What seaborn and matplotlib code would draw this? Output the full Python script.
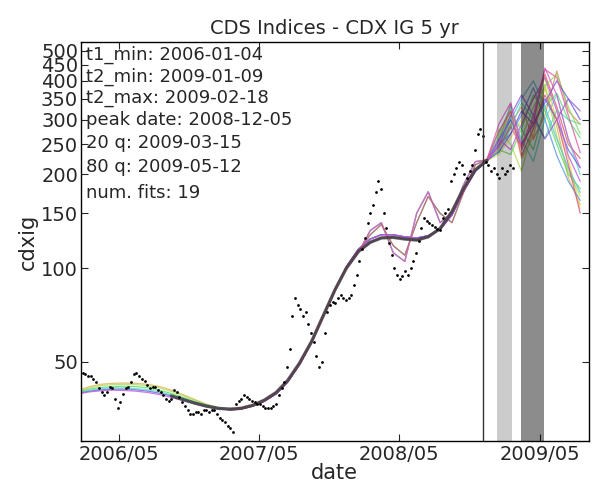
import matplotlib
matplotlib.use("Agg")
import matplotlib.pyplot as plt
import matplotlib.dates as mdates
from matplotlib.ticker import NullLocator, NullFormatter
import numpy as np
import pandas as pd
import seaborn as sns

# weekly index level (bp)
data_dates = pd.date_range("2006-01-20", periods=162, freq="7D")
data_vals = [47, 46, 45.5, 45, 45, 44, 43, 41, 40, 39,
             40, 41.5, 41, 38, 35.5, 37, 39.5, 41, 41.5, 43,
             45.5, 46, 45, 44, 43.5, 42, 41, 41.5, 41.5, 40.5,
             40, 39, 38, 37.5, 38, 40.5, 40, 38.5, 37, 36,
             35, 34, 34, 34.5, 34.5, 34, 35, 35, 34.5, 35,
             35, 34, 33, 32.5, 32, 31, 30.5, 29.8, 36.5, 37.5,
             38, 39, 38.5, 38, 37.5, 37, 36.5, 36.5, 36, 35.5,
             35.5, 35.5, 36, 36.5, 39, 41, 43, 48, 55, 70,
             80, 76, 74, 70, 72, 66, 62, 58, 52, 48,
             50, 62, 72, 76, 78, 77, 80, 82, 80, 79,
             80, 82, 88, 95, 105, 115, 125, 140, 150, 160,
             175, 190, 180, 150, 135, 120, 110, 100, 95, 92,
             94, 98, 95, 100, 105, 112, 122, 135, 145, 142,
             140, 138, 136, 134, 133, 145, 150, 155, 190, 200,
             210, 220, 215, 200, 195, 205, 215, 240, 270, 280,
             265, 220, 215, 205, 210, 200, 195, 210, 200, 205,
             215, 210]

# fits are sampled monthly (mid-month), index 0 = 2006-01-15 ... 43 = 2009-08-15
fit_months = pd.date_range("2006-01-01", periods=44, freq="MS") + pd.Timedelta(days=14)

# early part (idx 0-12) of the fits that start at t1_min
heads = {
    2: [40.5, 41.6, 42.3, 42.6, 42.7, 42.6, 42.3, 41.6, 40.5, 39.2, 37.8, 36.5, 35.6],
    4: [40.2, 41.2, 41.9, 42.2, 42.3, 42.2, 41.9, 41.2, 40.1, 38.9, 37.6, 36.4, 35.5],
    6: [40.0, 40.8, 41.3, 41.6, 41.7, 41.6, 41.2, 40.5, 39.5, 38.4, 37.2, 36.2, 35.5],
    9: [39.8, 40.5, 41.0, 41.2, 41.2, 41.0, 40.6, 40.0, 39.1, 38.1, 37.0, 36.1, 35.4],
    12: [39.6, 40.2, 40.6, 40.8, 40.8, 40.6, 40.2, 39.6, 38.8, 37.8, 36.8, 35.9, 35.3],
    15: [39.4, 40.0, 40.3, 40.5, 40.4, 40.2, 39.8, 39.2, 38.4, 37.5, 36.6, 35.8, 35.3],
}

# middle part (idx 13-34)
mid_smooth = [35.2, 35.4, 36.2, 37.6, 39.8, 43.5, 49.5, 58, 70, 85, 100,
              113, 121, 125, 125.5, 124, 123, 126, 134, 152, 180, 207]
mid_low = [35.0, 35.2, 36.0, 37.3, 39.4, 43.0, 49.0, 57.5, 69.5, 85, 101,
           115, 124, 128, 128, 126, 125, 127, 133, 148, 176, 205]
mid_wavy = [35.2, 35.4, 36.2, 37.6, 39.8, 43.5, 49.5, 58, 70, 85, 100,
            112, 132, 140, 112, 105, 150, 176, 140, 150, 185, 220]
mid_wavy2 = [35.2, 35.4, 36.2, 37.6, 39.8, 43.5, 49.5, 58, 70, 85, 100,
             113, 128, 138, 118, 110, 140, 170, 150, 140, 175, 215]
mids = ["wavy", "smooth", "smooth", "smooth", "low", "wavy2", "smooth", "smooth", "wavy2", "wavy",
        "low", "smooth", "low", "smooth", "low", "low", "wavy", "smooth", "wavy2"]
mid_lookup = {"smooth": mid_smooth, "low": mid_low, "wavy": mid_wavy, "wavy2": mid_wavy2}

# forecast part (idx 35-43)
tails = [[222, 255, 335, 240, 300, 420, 330, 250, 225],
         [220, 240, 290, 330, 260, 310, 430, 320, 290],
         [222, 265, 320, 225, 265, 380, 285, 195, 160],
         [221, 232, 262, 300, 350, 405, 300, 225, 155],
         [222, 280, 250, 205, 285, 390, 265, 205, 170],
         [224, 250, 290, 260, 330, 385, 420, 330, 270],
         [222, 240, 232, 280, 360, 320, 250, 200, 180],
         [222, 262, 310, 280, 240, 330, 365, 300, 262],
         [223, 236, 282, 340, 300, 262, 322, 300, 290],
         [222, 270, 330, 260, 220, 300, 360, 260, 200],
         [220, 245, 300, 350, 400, 330, 260, 210, 175],
         [222, 250, 270, 310, 380, 300, 230, 190, 165],
         [221, 258, 300, 250, 290, 350, 300, 240, 210],
         [222, 236, 270, 320, 290, 340, 400, 350, 300],
         [221, 248, 310, 360, 310, 260, 300, 350, 320],
         [222, 260, 240, 290, 350, 410, 320, 230, 190],
         [223, 290, 340, 250, 290, 440, 360, 260, 210],
         [222, 245, 285, 245, 310, 435, 410, 310, 235],
         [224, 275, 320, 230, 280, 360, 300, 215, 150]]

# thick grey mean fit, idx 8-35
mean_fit = [38.8, 37.8, 36.8, 36.0, 35.4, 35.2, 35.4, 36.2, 37.6, 39.8, 43.5, 49.5, 58, 70,
            85, 100, 113, 121, 125, 125.5, 124, 123, 126, 134, 152, 180, 207, 222]

ytick_vals = [50, 100, 150, 200, 250, 300, 350, 400, 450, 500]
info = ["t1_min: 2006-01-04", "t2_min: 2009-01-09", "t2_max: 2009-02-18",
        "peak date: 2008-12-05", "20 q: 2009-03-15", "80 q: 2009-05-12", "num. fits: 19"]

rows = []
for k in range(19):
    vals = heads.get(k, []) + mid_lookup[mids[k]] + tails[k]
    start = 44 - len(vals)
    for d, v in zip(fit_months[start:], vals):
        rows.append({"date": d, "value": v, "fit": k})
fits = pd.DataFrame(rows)

sns.set_style("ticks", {"xtick.direction": "in", "ytick.direction": "in"})
plt.rcParams["font.family"] = ["DejaVu Sans"]

fig = plt.figure(figsize=(5.94, 4.83), dpi=100)
ax = fig.add_axes([0.136, 0.087, 0.855, 0.826])

sns.lineplot(data=fits, x="date", y="value", hue="fit", palette=sns.color_palette("hls", 19),
             estimator=None, legend=False, lw=0.9, alpha=0.8, ax=ax, zorder=2)
sns.lineplot(x=fit_months[8:36], y=mean_fit, color="#3c3c3c", lw=2.4, alpha=0.8, ax=ax, zorder=3)
sns.scatterplot(x=data_dates, y=data_vals, color="k", s=4, linewidth=0, ax=ax, zorder=4)

ax.axvline(pd.Timestamp("2008-12-05"), color="#333333", lw=1.0, zorder=5)
ax.axvspan(pd.Timestamp("2009-01-09"), pd.Timestamp("2009-02-18"), color="k", alpha=0.2, lw=0, zorder=5)
ax.axvspan(pd.Timestamp("2009-03-15"), pd.Timestamp("2009-05-12"), color="k", alpha=0.45, lw=0, zorder=5)

ax.set_yscale("log")
ax.set_ylim(27.8, 533)
ax.set_yticks(ytick_vals)
ax.set_yticklabels([str(v) for v in ytick_vals])
ax.yaxis.set_minor_locator(NullLocator())
ax.yaxis.set_minor_formatter(NullFormatter())

ax.set_xlim(pd.Timestamp("2006-01-22"), pd.Timestamp("2009-09-06"))
ax.xaxis.set_major_locator(mdates.YearLocator(base=1, month=5, day=1))
ax.xaxis.set_major_formatter(mdates.DateFormatter("%Y/%m"))

ax.tick_params(top=True, right=True, direction="in", length=5, width=0.8, labelsize=14, pad=3)
ax.tick_params(axis="y", pad=2)
for s in ax.spines.values():
    s.set_linewidth(1.0)
    s.set_color("k")

ax.set_xlabel("date", fontsize=15, labelpad=-1)
ax.set_ylabel("cdxig", fontsize=15, labelpad=2)
ax.set_title("CDS Indices - CDX IG 5 yr", fontsize=14)

ypos = [0.967, 0.912, 0.859, 0.805, 0.747, 0.687, 0.622]
for t, yy in zip(info, ypos):
    ax.text(0.01, yy, t, transform=ax.transAxes, fontsize=13, va="center", ha="left", zorder=6)

fig.savefig("out.png", dpi=100)
